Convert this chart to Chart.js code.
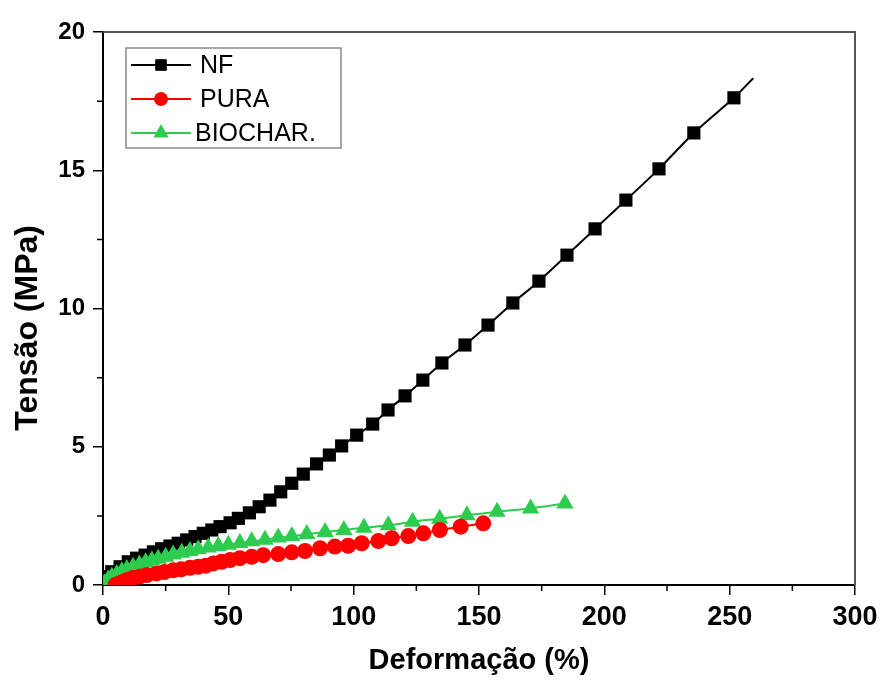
<!DOCTYPE html>
<html>
<head>
<meta charset="utf-8">
<script src="https://cdn.jsdelivr.net/npm/chart.js@4/dist/chart.umd.min.js"></script>
<style>
  html, body { margin: 0; padding: 0; background: #fff; }
  #wrap { width: 881px; height: 680px; position: relative; }
</style>
</head>
<body>
<div id="wrap"><canvas id="c" width="881" height="680"></canvas></div>
<script>
// ---- Data ----
const seriesLabels = ['NF', 'PURA', 'BIOCHAR.'];

const nfX = [0, 0.8, 3.5, 6.8, 10.1, 13.4, 16.8, 20.1, 23.4, 26.7, 30.0, 33.4, 36.7, 40.0, 43.4, 46.7, 50.7, 54.0, 58.4, 62.3, 66.6, 70.9, 75.3, 79.9, 85.2, 90.3, 95.2, 101.2, 107.6, 113.7, 120.5, 127.6, 135.2, 144.4, 153.6, 163.5, 173.9, 185.1, 196.3, 208.6, 221.8, 235.7, 251.7, 259.4];
const nfY = [0.12, 0.30, 0.48, 0.66, 0.84, 0.97, 1.08, 1.20, 1.31, 1.41, 1.51, 1.63, 1.75, 1.87, 1.99, 2.11, 2.25, 2.41, 2.61, 2.83, 3.07, 3.37, 3.68, 4.01, 4.38, 4.70, 5.03, 5.42, 5.82, 6.33, 6.84, 7.41, 8.03, 8.68, 9.40, 10.20, 10.99, 11.93, 12.88, 13.92, 15.05, 16.35, 17.62, 18.33];

const puraX = [5, 6.5, 8.1, 10, 12, 14.8, 17.5, 21.4, 24.5, 28, 31.2, 34.7, 38, 41, 44, 47.3, 50.7, 54.6, 59.3, 63.9, 69.9, 75.3, 80.6, 86.6, 92.5, 97.8, 103.2, 109.8, 115.2, 121.8, 127.8, 134.4, 142.7, 151.7];
const puraY = [0.0, 0.06, 0.12, 0.19, 0.25, 0.31, 0.36, 0.42, 0.47, 0.53, 0.57, 0.62, 0.66, 0.70, 0.78, 0.84, 0.90, 0.97, 1.02, 1.08, 1.12, 1.18, 1.23, 1.33, 1.39, 1.42, 1.51, 1.59, 1.69, 1.77, 1.87, 1.99, 2.11, 2.23];

const biocharX = [0.5, 2, 3.5, 5.5, 7.5, 9.5, 12, 14.5, 17, 19.5, 22, 25, 28, 31.4, 34.7, 38, 42, 46, 50, 54.6, 59.3, 64.6, 69.9, 75.3, 81.3, 88.6, 96.1, 104.1, 113.8, 123.5, 134.3, 145.2, 157.2, 170.6, 184.3];
const biocharY = [0.05, 0.2, 0.3, 0.4, 0.5, 0.58, 0.66, 0.74, 0.82, 0.89, 0.95, 1.02, 1.1, 1.17, 1.23, 1.29, 1.36, 1.41, 1.46, 1.52, 1.58, 1.64, 1.72, 1.77, 1.84, 1.92, 1.99, 2.07, 2.16, 2.29, 2.40, 2.52, 2.65, 2.77, 2.95];

const xTitle = 'Deformação (%)';
const yTitle = 'Tensão (MPa)';
const xMin = 0, xMax = 300, xMajor = 50;
const yMin = 0, yMax = 20, yMajor = 5;

// ---- build ----
const toPts = (xs, ys) => xs.map((x, i) => ({ x: x, y: ys[i] }));
const FONT = "'Liberation Sans', Arial, sans-serif";

const colors = ['#000000', '#ff0000', '#2ecc4e'];
const styles = ['rect', 'circle', 'triangle'];
const radii = [9.3, 8, 10];

function makeDs(i, xs, ys, order, hideEnds) {
  return {
    label: seriesLabels[i],
    data: toPts(xs, ys),
    borderColor: colors[i],
    backgroundColor: colors[i],
    pointBackgroundColor: colors[i],
    pointBorderColor: colors[i],
    pointBorderWidth: 0,
    pointStyle: styles[i],
    pointRadius: (ctx) => {
      if (hideEnds) {
        const n = ctx.dataset.data.length;
        if (ctx.dataIndex === 0 || ctx.dataIndex === n - 1) return 0;
      }
      return radii[i];
    },
    borderWidth: 2,
    tension: 0.3,
    fill: false,
    order: order
  };
}

const legendPlugin = {
  id: 'boxLegend',
  afterDraw(chart) {
    const ctx = chart.ctx;
    const ca = chart.chartArea;
    const bx = ca.left + 23, by = ca.top + 16, bw = 215, bh = 100;
    ctx.save();
    ctx.strokeStyle = '#8a8a8a';
    ctx.lineWidth = 1.5;
    ctx.strokeRect(bx, by, bw, bh);
    const rowY = [by + 17, by + 51, by + 85];
    chart.data.datasets.forEach((ds, i) => {
      const y = rowY[i];
      ctx.strokeStyle = colors[i];
      ctx.lineWidth = 2;
      ctx.beginPath();
      ctx.moveTo(bx + 5, y);
      ctx.lineTo(bx + 65, y);
      ctx.stroke();
      ctx.fillStyle = colors[i];
      Chart.helpers.drawPoint(ctx, { pointStyle: styles[i], radius: radii[i] * 0.85, rotation: 0, borderWidth: 0 }, bx + 35, y);
      ctx.fill();
      ctx.fillStyle = '#000';
      ctx.font = "25px " + FONT;
      ctx.textBaseline = 'middle';
      ctx.textAlign = 'left';
      ctx.fillText(ds.label, bx + (i === 2 ? 69 : 74), y + 1);
    });
    ctx.restore();
  }
};

const framePlugin = {
  id: 'frame',
  afterDatasetsDraw(chart) {
    const ctx = chart.ctx;
    const ca = chart.chartArea;
    ctx.save();
    ctx.strokeStyle = '#555';
    ctx.lineWidth = 2;
    ctx.beginPath();
    ctx.moveTo(ca.left, ca.top);
    ctx.lineTo(ca.right, ca.top);
    ctx.lineTo(ca.right, ca.bottom);
    ctx.stroke();
    // minor ticks (shorter than major)
    ctx.strokeStyle = '#000';
    ctx.lineWidth = 1.5;
    const xs = chart.scales.x, ys = chart.scales.y;
    ctx.beginPath();
    for (let v = xMin + xMajor / 2; v < xMax; v += xMajor) {
      const px = xs.getPixelForValue(v);
      ctx.moveTo(px, ca.bottom);
      ctx.lineTo(px, ca.bottom + 6);
    }
    for (let v = yMin + yMajor / 2; v < yMax; v += yMajor) {
      const py = ys.getPixelForValue(v);
      ctx.moveTo(ca.left, py);
      ctx.lineTo(ca.left - 6, py);
    }
    ctx.stroke();
    // y axis title
    ctx.fillStyle = '#000';
    ctx.font = "bold 32px " + FONT;
    ctx.textAlign = 'center';
    ctx.textBaseline = 'middle';
    ctx.translate(28, ca.top + (ca.bottom - ca.top) * 0.535);
    ctx.rotate(-Math.PI / 2);
    ctx.fillText(yTitle, 0, 0);
    ctx.restore();
  }
};

const majorOnly = (major) => (c) => (c.tick && Math.abs(c.tick.value % major) < 1e-9 ? '#000' : 'rgba(0,0,0,0)');

new Chart(document.getElementById('c'), {
  type: 'line',
  data: {
    datasets: [
      makeDs(0, nfX, nfY, 3, true),
      makeDs(1, puraX, puraY, 1, false),
      makeDs(2, biocharX, biocharY, 2, false)
    ]
  },
  options: {
    responsive: false,
    animation: false,
    layout: { autoPadding: false, padding: { top: 32, right: 26, bottom: 0, left: 0 } },
    plugins: {
      legend: { display: false },
      tooltip: { enabled: false },
      title: { display: false }
    },
    scales: {
      x: {
        type: 'linear',
        min: xMin, max: xMax,
        afterFit: (s) => { s.height = 95; s.paddingLeft = 0; s.paddingRight = 0; },
        ticks: {
          stepSize: xMajor / 2,
          autoSkip: false,
          maxRotation: 0,
          padding: 6,
          color: '#000',
          font: { family: FONT, size: 27, weight: 'bold' },
          callback: (v) => (v % xMajor === 0 ? String(v) : '')
        },
        grid: { drawOnChartArea: false, drawTicks: true, tickLength: 10, tickColor: majorOnly(xMajor), lineWidth: 1.5 },
        border: { display: true, color: '#000', width: 2 },
        title: {
          display: true, text: xTitle, color: '#000',
          font: { family: FONT, size: 29, weight: 'bold' },
          padding: { top: 0, bottom: 2 }
        }
      },
      y: {
        type: 'linear',
        min: yMin, max: yMax,
        afterFit: (s) => { s.width = 103; s.paddingTop = 0; s.paddingBottom = 0; },
        ticks: {
          stepSize: yMajor / 2,
          autoSkip: false,
          padding: 8,
          color: '#000',
          font: { family: FONT, size: 24, weight: 'bold' },
          callback: (v) => (v % yMajor === 0 ? String(v) : '')
        },
        grid: { drawOnChartArea: false, drawTicks: true, tickLength: 10, tickColor: majorOnly(yMajor), lineWidth: 1.5 },
        border: { display: true, color: '#000', width: 2 },
        title: { display: false, text: yTitle }
      }
    }
  },
  plugins: [legendPlugin, framePlugin]
});
</script>
</body>
</html>
